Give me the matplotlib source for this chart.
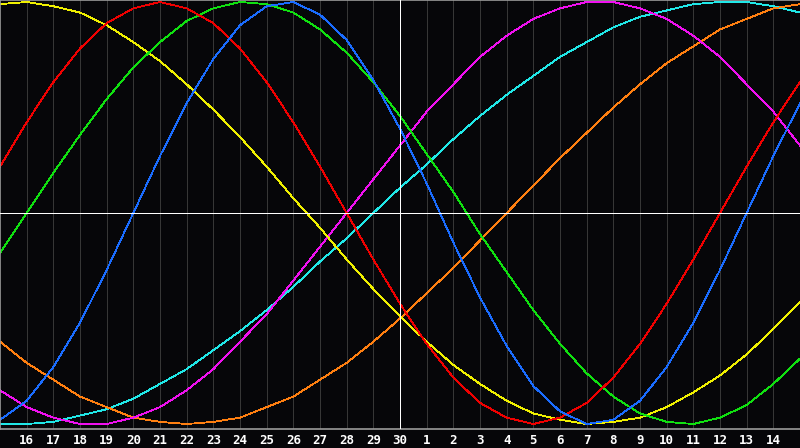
import matplotlib
matplotlib.use("Agg")
import matplotlib.pyplot as plt

# day labels along the bottom (position 0 = the 15th, left edge)
day_labels = ['16', '17', '18', '19', '20', '21', '22', '23', '24', '25', '26', '27', '28', '29', '30',
              '1', '2', '3', '4', '5', '6', '7', '8', '9', '10', '11', '12', '13', '14']
positions = list(range(31))

# curve values read at each day position 0..30
physical = [-0.98, -0.89, -0.73, -0.52, -0.27, 0.00, 0.27, 0.52, 0.73, 0.89, 0.98, 1.00, 0.94, 0.82, 0.63, 0.40,
            0.14, -0.14, -0.40, -0.63, -0.82, -0.94, -1.00, -0.98, -0.89, -0.73, -0.52, -0.27, 0.00, 0.27, 0.52]
emotional = [0.22, 0.43, 0.62, 0.78, 0.90, 0.97, 1.00, 0.97, 0.90, 0.78, 0.62, 0.43, 0.22, 0.00, -0.22, -0.43,
             -0.62, -0.78, -0.90, -0.97, -1.00, -0.97, -0.90, -0.78, -0.62, -0.43, -0.22, 0.00, 0.22, 0.43, 0.62]
intellectual = [-0.19, 0.00, 0.19, 0.37, 0.54, 0.69, 0.81, 0.91, 0.97, 1.00, 0.99, 0.95, 0.87, 0.76, 0.62, 0.46,
                0.28, 0.10, -0.10, -0.28, -0.46, -0.62, -0.76, -0.87, -0.95, -0.99, -1.00, -0.97, -0.91, -0.81, -0.69]
intuitive = [-0.84, -0.92, -0.97, -1.00, -1.00, -0.97, -0.92, -0.84, -0.74, -0.61, -0.48, -0.32, -0.16, 0.00, 0.16, 0.32,
             0.48, 0.61, 0.74, 0.84, 0.92, 0.97, 1.00, 1.00, 0.97, 0.92, 0.84, 0.74, 0.61, 0.48, 0.32]
aesthetic = [0.99, 1.00, 0.98, 0.95, 0.89, 0.81, 0.72, 0.61, 0.49, 0.36, 0.22, 0.07, -0.07, -0.22, -0.36, -0.49,
             -0.61, -0.72, -0.81, -0.89, -0.95, -0.98, -1.00, -0.99, -0.97, -0.92, -0.85, -0.77, -0.67, -0.55, -0.42]
awareness = [-0.61, -0.71, -0.79, -0.87, -0.92, -0.97, -0.99, -1.00, -0.99, -0.97, -0.92, -0.87, -0.79, -0.71, -0.61, -0.50,
             -0.38, -0.26, -0.13, 0.00, 0.13, 0.26, 0.38, 0.50, 0.61, 0.71, 0.79, 0.87, 0.92, 0.97, 0.99]
spiritual = [-1.00, -1.00, -0.99, -0.96, -0.93, -0.88, -0.81, -0.74, -0.65, -0.56, -0.46, -0.35, -0.23, -0.12, 0.00, 0.12,
             0.23, 0.35, 0.46, 0.56, 0.65, 0.74, 0.81, 0.88, 0.93, 0.96, 0.99, 1.00, 1.00, 0.98, 0.95]

series = [
    (spiritual, '#20e8e8'),
    (awareness, '#ff7f10'),
    (intuitive, '#f010f0'),
    (aesthetic, '#f0f000'),
    (intellectual, '#10e010'),
    (emotional, '#f00000'),
    (physical, '#1a6cff'),
]

bg = '#060609'
fig = plt.figure(figsize=(8, 4.48), dpi=100, facecolor=bg)
ax = fig.add_axes([0, 1 - 428.5 / 448, 1, 428.5 / 448], facecolor=bg)

# day grid lines, the middle one is white
for p in range(1, 30):
    if p == 15:
        ax.axvline(p, color='white', lw=0.6, zorder=3, antialiased=False)
    else:
        ax.axvline(p, color='#363636', lw=0.6, zorder=1, antialiased=False)
ax.axhline(0, color='white', lw=0.6, zorder=3, antialiased=False)

for vals, col in series:
    ax.plot(positions, vals, color=col, lw=0.6, zorder=2, antialiased=False)

ax.set_xlim(0, 30)
ax.set_ylim(-1.0213, 1.0095)

ax.set_xticks(range(1, 30))
ax.set_xticklabels(day_labels, color='white', fontsize=9, fontweight='bold', family='DejaVu Sans Mono')
ax.tick_params(axis='x', length=0, pad=4)
ax.set_yticks([])

for side in ['left', 'top', 'bottom']:
    ax.spines[side].set_color('#9a9a9a')
    ax.spines[side].set_linewidth(1.2)
ax.spines['right'].set_visible(False)

fig.savefig('out.png', dpi=100, facecolor=bg)
